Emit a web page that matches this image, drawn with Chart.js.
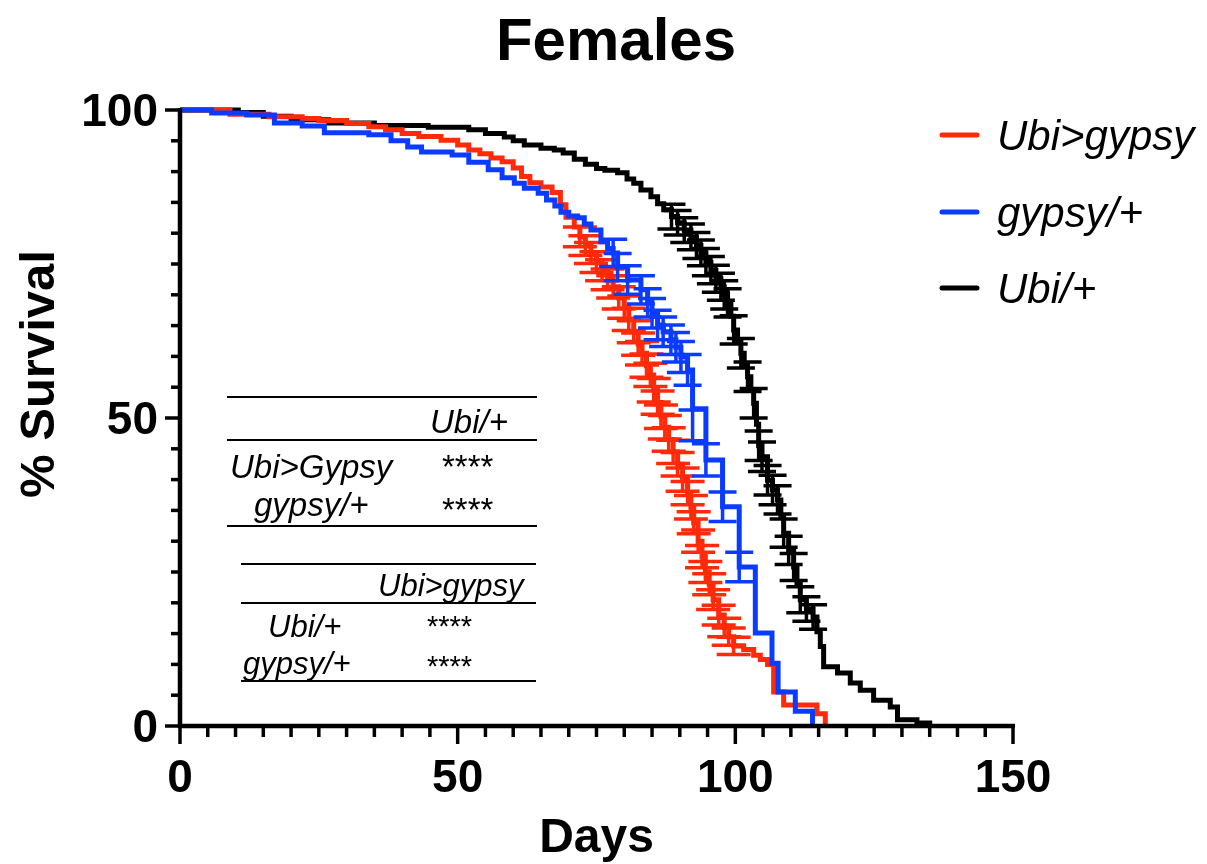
<!DOCTYPE html>
<html>
<head>
<meta charset="utf-8">
<script src="https://cdn.jsdelivr.net/npm/chart.js@4.4.0/dist/chart.umd.min.js"></script>
<style>
html,body{margin:0;padding:0;background:#ffffff;}
#wrap{width:1207px;height:864px;position:relative;}
</style>
</head>
<body>
<div id="wrap"><canvas id="c" width="1207" height="864"></canvas></div>
<script>
// ---------- text ----------
const chartTitle = 'Females';
const xAxisTitle = 'Days';
const yAxisTitle = '% Survival';
const seriesLabels = ['Ubi>gypsy', 'gypsy/+', 'Ubi/+'];
const seriesColors = ['#FF2A0A', '#0A3BFF', '#000000'];
const xTickLabels = [0, 50, 100, 150];
const yTickLabels = [0, 50, 100];

// ---------- Ubi>gypsy (red) ----------
const ubiGypsyDays = [0,9,16,22,25,30,34,37,40,43,47,50,52,54,56,58,60,61.5,63,65,67,68.5,69.5,71,72,73,74,75,76,77,78,79,80,80.8,81.7,82.5,83.2,84,84.7,85.3,86,86.6,87.3,88,88.8,89.6,90.5,91.4,92,92.5,93.3,94,94.6,95.3,96,97,98,98.8,99.7,101.5,103.3,104.5,105.8,106.9,108.7,114.7,116.2];
const ubiGypsySurv = [100,99.3,98.9,98.6,98.3,97.8,97.3,96.8,96.2,95.7,95.1,94.3,93.5,92.9,92.2,91.6,90.6,89.2,88.2,87.5,86.6,84.6,82.6,81.0,79.4,78.0,76.8,75.3,74.0,72.5,71.3,69.5,68.0,66.0,64.0,62.0,60.5,58.5,57.0,54.5,52.5,50.2,48.5,46.5,44.5,42.5,40.0,37.8,35.5,33.0,30.0,27.5,25.0,23.0,20.5,18.0,16.0,14.5,13.0,12.4,11.5,10.8,10.0,5.5,3.4,2.0,0];
const ubiGypsyErrDays = [72,73,74,75,76,77,78,79,80,80.8,81.7,82.5,83.2,84,84.7,85.3,86,86.6,87.3,88,88.8,89.6,90.5,91.4,92,92.5,93.3,94,94.6,95.3,96,97,98,98.8,99.7];
const ubiGypsyErrSurv = [79.4,78.0,76.8,75.3,74.0,72.5,71.3,69.5,68.0,66.0,64.0,62.0,60.5,58.5,57.0,54.5,52.5,50.2,48.5,46.5,44.5,42.5,40.0,37.8,35.5,33.0,30.0,27.5,25.0,23.0,20.5,18.0,16.0,14.5,13.0];
const ubiGypsyErrSem  = [1.6,1.6,1.7,1.7,1.7,1.7,1.8,1.8,1.8,1.8,1.8,1.8,1.9,1.9,1.9,1.9,1.9,1.9,1.9,1.9,1.9,1.9,1.9,1.9,1.9,1.8,1.8,1.8,1.7,1.7,1.6,1.6,1.5,1.4,1.4];

// ---------- gypsy/+ (blue) ----------
const gypsyDays = [0,5.7,12,17,22,26,34,38,41,43.5,49,52,55.5,58,60.2,62,64.5,66,67.5,68.6,70,71.6,72.8,74,75.8,77,78,78.8,80.6,83,84.2,85,86,87,88.4,89.3,90.2,91.4,92.3,94.7,97.7,100.7,103.6,106.6,107.7,110.8,113.9];
const gypsySurv = [100,99.5,99.2,97.9,97.4,96.3,96.0,95.0,94.0,93.2,92.7,91.5,90.3,89.0,88.1,87.3,86.5,85.4,84.4,83.4,82.8,82.5,81.5,80.5,78.6,77.5,76.8,74.5,72.4,70.8,68.7,67.0,65.1,64.0,62.7,61.5,59.9,57.8,51.5,43.2,35.6,25.8,15.1,10.2,5.5,2.4,0];
const gypsyErrDays = [78,78.8,80.6,83,84.2,85,86,87,88.4,89.3,90.2,91.4,92.3,94.7,97.7,100.7];
const gypsyErrSurv = [76.8,74.5,72.4,70.8,68.7,67.0,65.1,64.0,62.7,61.5,59.9,57.8,48.8,43.2,35.6,25.8];
const gypsyErrSem  = [2.2,2.2,2.3,2.3,2.3,2.4,2.4,2.4,2.4,2.4,2.5,2.5,2.5,2.6,2.4,2.4];

// ---------- Ubi/+ (black) ----------
const ubiDays = [0,10.5,15,20,26.8,35,44.7,52,55,58.4,60,62,65,67.4,69,71,73,75,76.5,78.8,80.5,81.7,83,84.8,86,87.1,88.5,89.6,90.8,92,93,93.8,94.7,95.6,96.5,97.4,98,98.6,99.2,99.7,100.4,101,101.6,102.2,102.8,103.3,103.8,104.2,104.8,105.8,106.7,107.6,108.2,108.7,109.6,110.5,111.1,111.7,112.8,114,114.7,115.3,115.9,118.4,120.7,122.5,124.9,127.9,129.2,132.7,135];
const ubiSurv = [100,99.6,99.0,98.4,97.9,97.5,97.2,96.8,96.2,95.6,95.0,94.3,93.8,93.5,93.0,92.0,91.2,90.5,90.2,89.8,88.8,88.1,87.0,85.9,84.8,83.8,82.7,81.7,80.5,79.4,78.0,76.8,75.3,74.0,72.6,71.3,70.0,68.7,66.5,64.3,62.4,60.5,58.6,56.7,54.5,52.4,49.0,45.5,43.7,39.9,38.3,36.7,34.0,31.3,28.5,25.8,23.0,20.5,19.0,17.7,15.3,12.9,9.6,8.6,7.0,5.8,4.2,3.1,1.0,0.5,0];
const ubiErrDays = [88.5,89.6,90.8,92,93,93.8,94.7,95.6,96.5,97.4,98,98.6,99.7,101,102.2,103.3,104.2,104.8,105.8,106.7,107.6,108.7,109.6,110.5,111.7,112.8,114];
const ubiErrSurv = [82.7,81.7,80.5,79.4,78.0,76.8,75.3,74.0,72.6,71.3,70.0,68.7,64.3,60.5,56.7,52.4,45.5,43.7,39.9,38.3,36.7,31.3,28.5,25.8,20.5,19.0,17.7];
const ubiErrSem  = [2.0,2.0,2.0,2.1,2.1,2.1,2.2,2.2,2.2,2.2,2.3,2.3,2.3,2.4,2.4,2.4,2.4,2.4,2.4,2.4,2.3,2.3,2.3,2.2,2.1,2.0,2.0];

// ---------- inset comparison tables ----------
const table1Header = 'Ubi/+';
const table1Rows = ['Ubi>Gypsy', 'gypsy/+'];
const table1Stars = ['****', '****'];
const table2Header = 'Ubi>gypsy';
const table2Rows = ['Ubi/+', 'gypsy/+'];
const table2Stars = ['****', '****'];

function toPoints(xs, ys) { return xs.map((x, i) => ({ x: x, y: ys[i] })); }
function toErr(xs, ys, es) { return xs.map((x, i) => ({ x: x, y: ys[i], e: es[i] })); }

const FONT = '"Liberation Sans", Arial, Helvetica, sans-serif';

function drawText(ctx, text, x, y, font, align, baseline, sx) {
  ctx.save();
  ctx.translate(x, y);
  ctx.scale(sx || 1, 1);
  ctx.font = font;
  ctx.textAlign = align;
  ctx.textBaseline = baseline;
  ctx.fillStyle = '#000';
  ctx.fillText(text, 0, 0);
  ctx.restore();
}

const errorBarPlugin = {
  id: 'errorBars',
  afterDatasetDraw(chart, args) {
    const ds = chart.data.datasets[args.index];
    if (!ds.errorBars) return;
    const xs = chart.scales.x, ys = chart.scales.y;
    const ctx = chart.ctx;
    ctx.save();
    ctx.strokeStyle = ds.borderColor;
    ctx.lineWidth = 3.5;
    ctx.lineCap = 'butt';
    const half = ds.capHalfWidth || 14;
    ds.errorBars.forEach(p => {
      const px = xs.getPixelForValue(p.x);
      const pt = ys.getPixelForValue(p.y + p.e);
      const pb = ys.getPixelForValue(p.y - p.e);
      ctx.beginPath();
      ctx.moveTo(px, pt); ctx.lineTo(px, pb);
      ctx.moveTo(px - half, pt); ctx.lineTo(px + half, pt);
      ctx.moveTo(px - half, pb); ctx.lineTo(px + half, pb);
      ctx.stroke();
    });
    ctx.restore();
  }
};

const decorPlugin = {
  id: 'decor',
  afterDraw(chart) {
    const ctx = chart.ctx;
    const xs = chart.scales.x, ys = chart.scales.y;
    const area = chart.chartArea;
    // axes lines and ticks
    ctx.save();
    ctx.strokeStyle = '#000';
    ctx.lineCap = 'butt';
    ctx.lineWidth = 4.5;
    ctx.beginPath();
    ctx.moveTo(area.left, area.top - 2); ctx.lineTo(area.left, area.bottom + 2);
    ctx.moveTo(area.left - 2, area.bottom); ctx.lineTo(area.right + 2, area.bottom);
    ctx.stroke();
    ctx.lineWidth = 3.5;
    ys.ticks.forEach(t => {
      const py = ys.getPixelForValue(t.value);
      const len = yTickLabels.includes(t.value) ? 15 : 9;
      ctx.beginPath(); ctx.moveTo(area.left - len, py); ctx.lineTo(area.left, py); ctx.stroke();
    });
    xs.ticks.forEach(t => {
      const px = xs.getPixelForValue(t.value);
      const len = xTickLabels.includes(t.value) ? 18 : 11;
      ctx.beginPath(); ctx.moveTo(px, area.bottom); ctx.lineTo(px, area.bottom + len); ctx.stroke();
    });
    ctx.restore();

    const tickFont = 'bold 46px ' + FONT;
    ys.ticks.forEach(t => {
      if (!yTickLabels.includes(t.value)) return;
      const py = ys.getPixelForValue(t.value);
      drawText(ctx, String(t.value), area.left - 22, py + 16, tickFont, 'right', 'alphabetic', 1);
    });
    xs.ticks.forEach(t => {
      if (!xTickLabels.includes(t.value)) return;
      const px = xs.getPixelForValue(t.value);
      drawText(ctx, String(t.value), px, 792, tickFont, 'center', 'alphabetic', 1);
    });

    // titles
    drawText(ctx, chartTitle, 616, 60, 'bold 60px ' + FONT, 'center', 'alphabetic', 1);
    drawText(ctx, xAxisTitle, (area.left + area.right) / 2, 852, 'bold 48px ' + FONT, 'center', 'alphabetic', 1);
    ctx.save();
    ctx.translate(54, 374);
    ctx.rotate(-Math.PI / 2);
    drawText(ctx, yAxisTitle, 0, 0, 'bold 49px ' + FONT, 'center', 'alphabetic', 1);
    ctx.restore();

    // legend
    const legendY = [135, 212, 288];
    chart.data.datasets.forEach((ds, i) => {
      const y = legendY[i];
      ctx.save();
      ctx.strokeStyle = ds.borderColor;
      ctx.lineWidth = 5;
      ctx.lineCap = 'round';
      ctx.beginPath(); ctx.moveTo(942, y); ctx.lineTo(977, y); ctx.stroke();
      ctx.restore();
      drawText(ctx, ds.label, 997, y + 15, 'italic 42px ' + FONT, 'left', 'alphabetic', 1);
    });

    // inset tables
    ctx.save();
    ctx.strokeStyle = '#000';
    ctx.lineWidth = 2;
    const hl = (x1, x2, y) => { ctx.beginPath(); ctx.moveTo(x1, y); ctx.lineTo(x2, y); ctx.stroke(); };
    hl(227, 537, 397); hl(227, 537, 440); hl(227, 537, 526);
    hl(241, 536, 564); hl(241, 536, 603); hl(241, 536, 681);
    ctx.restore();
    const f1 = 'italic 33px ' + FONT, s1 = '33px ' + FONT;
    const f2 = 'italic 31px ' + FONT, s2 = '29px ' + FONT;
    drawText(ctx, table1Header, 430, 433, f1, 'left', 'alphabetic', 1);
    drawText(ctx, table1Rows[0], 230, 478, f1, 'left', 'alphabetic', 1);
    drawText(ctx, table1Rows[1], 254, 516, f1, 'left', 'alphabetic', 1);
    drawText(ctx, table1Stars[0], 442, 478, s1, 'left', 'alphabetic', 1);
    drawText(ctx, table1Stars[1], 442, 521, s1, 'left', 'alphabetic', 1);
    drawText(ctx, table2Header, 378, 596, f2, 'left', 'alphabetic', 1);
    drawText(ctx, table2Rows[0], 268, 637, f2, 'left', 'alphabetic', 1);
    drawText(ctx, table2Rows[1], 243, 674, f2, 'left', 'alphabetic', 1);
    drawText(ctx, table2Stars[0], 427, 636, s2, 'left', 'alphabetic', 1);
    drawText(ctx, table2Stars[1], 427, 676, s2, 'left', 'alphabetic', 1);
  }
};

function series(label, color, order, xs, ys, ex, ey, ee, cap) {
  return {
    label: label,
    data: toPoints(xs, ys),
    errorBars: toErr(ex, ey, ee),
    capHalfWidth: cap,
    borderColor: color,
    backgroundColor: color,
    borderWidth: 5,
    pointRadius: 0,
    stepped: 'before',
    fill: false,
    order: order,
    clip: false
  };
}

new Chart(document.getElementById('c'), {
  type: 'line',
  data: {
    datasets: [
      series(seriesLabels[0], seriesColors[0], 1, ubiGypsyDays, ubiGypsySurv, ubiGypsyErrDays, ubiGypsyErrSurv, ubiGypsyErrSem, 17),
      series(seriesLabels[1], seriesColors[1], 0, gypsyDays, gypsySurv, gypsyErrDays, gypsyErrSurv, gypsyErrSem, 14),
      series(seriesLabels[2], seriesColors[2], 2, ubiDays, ubiSurv, ubiErrDays, ubiErrSurv, ubiErrSem, 14)
    ]
  },
  options: {
    responsive: false,
    animation: false,
    events: [],
    layout: { padding: { top: 110, right: 194, left: 0, bottom: 0 } },
    plugins: { legend: { display: false }, title: { display: false }, tooltip: { enabled: false } },
    scales: {
      x: {
        type: 'linear', min: 0, max: 150,
        ticks: { display: false, stepSize: 5, autoSkip: false },
        grid: { display: false },
        border: { display: false },
        afterFit(s) { s.height = 138; }
      },
      y: {
        type: 'linear', min: 0, max: 100,
        ticks: { display: false, stepSize: 5, autoSkip: false },
        grid: { display: false },
        border: { display: false },
        afterFit(s) { s.width = 180; }
      }
    }
  },
  plugins: [errorBarPlugin, decorPlugin]
});
</script>
</body>
</html>
